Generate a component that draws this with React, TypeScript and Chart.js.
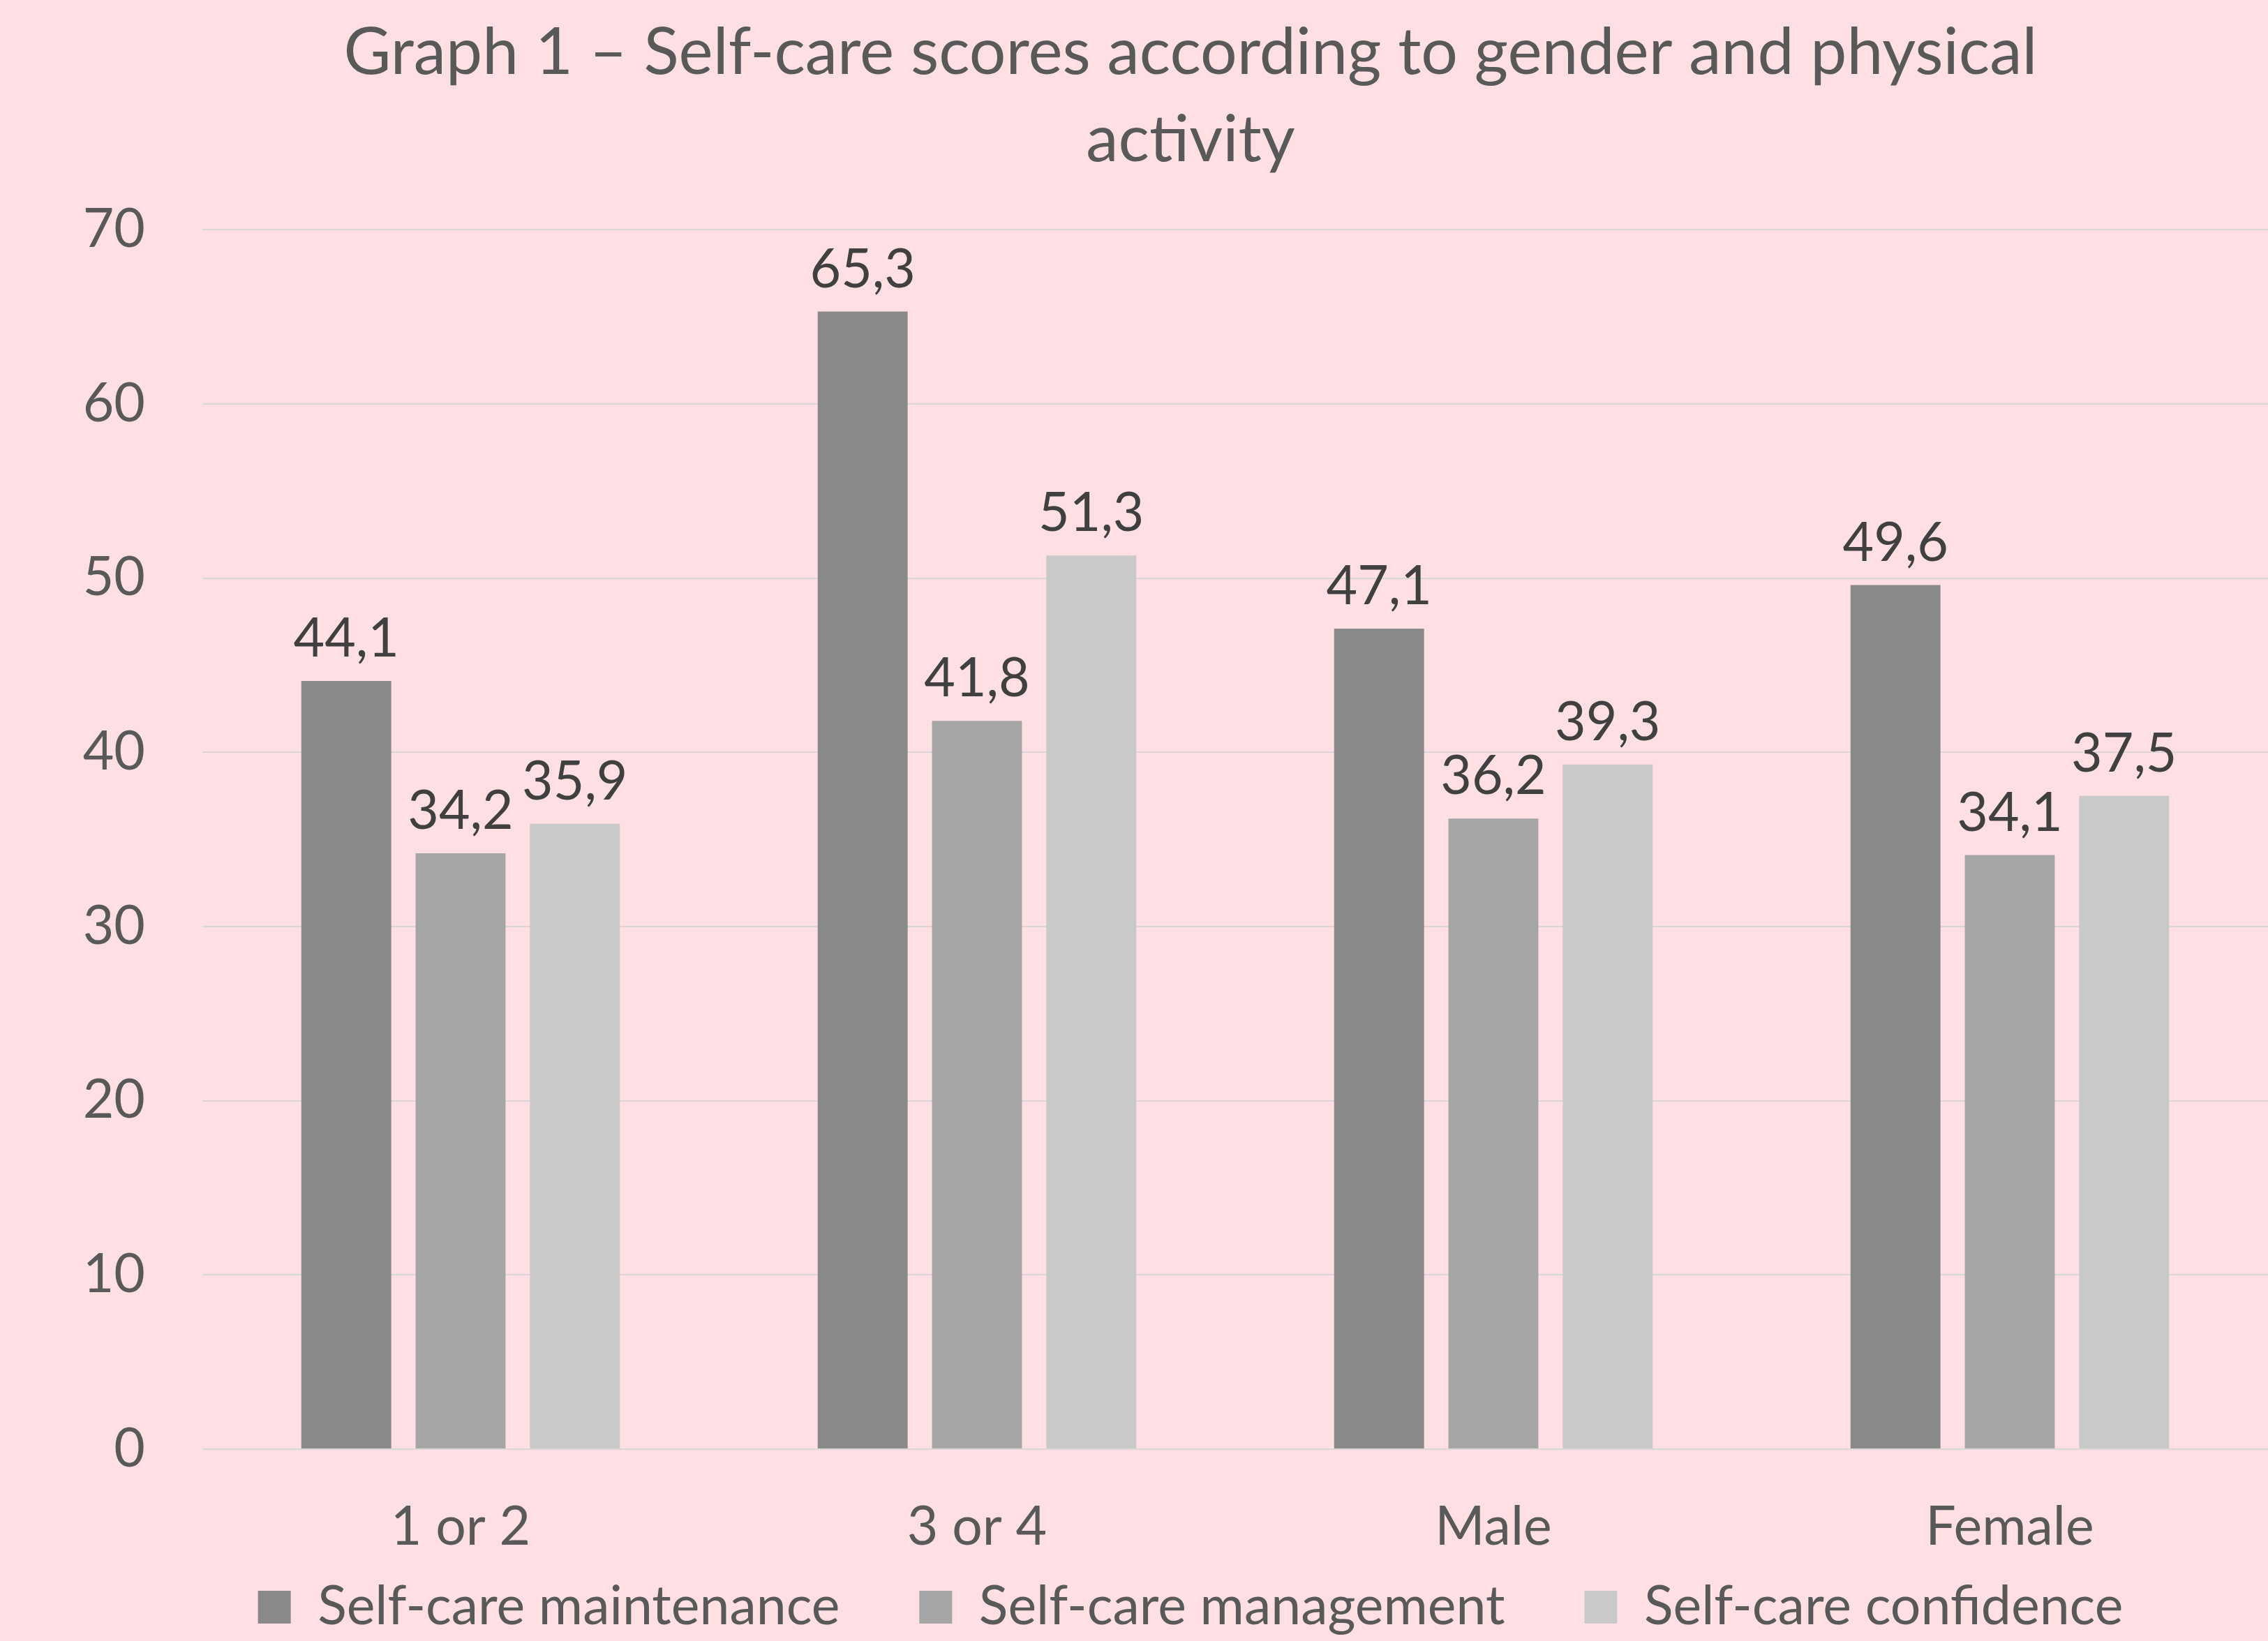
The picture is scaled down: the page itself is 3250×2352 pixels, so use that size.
import React, { useEffect, useRef } from "react";
import { Chart, registerables } from "chart.js";

Chart.register(...registerables);

const categories = ["1 or 2", "3 or 4", "Male", "Female"];
const maintenance = [44.1, 65.3, 47.1, 49.6];
const management = [34.2, 41.8, 36.2, 34.1];
const confidence = [35.9, 51.3, 39.3, 37.5];
const seriesNames = ["Self-care maintenance", "Self-care management", "Self-care confidence"];
const titleLines = ["Graph 1 \u2013 Self-care scores according to gender and physical", "activity"];
const yMin = 0;
const yMax = 70;
const yStep = 10;

const FONT = "Lato";
const BG = "#FDDFE4";

const bgPlugin = {
  id: "bg",
  beforeDraw(chart: any) {
    const ctx = chart.ctx;
    ctx.save();
    ctx.fillStyle = BG;
    ctx.fillRect(0, 0, chart.width, chart.height);
    ctx.restore();
  },
};

// widen label clipping areas so tick labels are not cut off
const labelAreaPlugin = {
  id: "labelArea",
  afterLayout(chart: any) {
    const y = chart.scales.y;
    const x = chart.scales.x;
    if (y) y.left = 0;
    if (x) x.bottom = chart.height;
  },
};

const labelPlugin = {
  id: "valueLabels",
  afterDatasetsDraw(chart: any) {
    const ctx = chart.ctx;
    ctx.save();
    ctx.font = `77px ${FONT}`;
    ctx.fillStyle = "#404040";
    ctx.textAlign = "center";
    ctx.textBaseline = "alphabetic";
    chart.data.datasets.forEach((ds: any, i: number) => {
      const meta = chart.getDatasetMeta(i);
      meta.data.forEach((bar: any, j: number) => {
        const v = ds.data[j];
        ctx.fillText(v.toFixed(1).replace(".", ","), bar.x, bar.y - 35);
      });
    });
    ctx.restore();
  },
};

export default function App() {
  const ref = useRef<HTMLCanvasElement>(null);
  useEffect(() => {
    if (!ref.current) return;
    const chart = new Chart(ref.current, {
      type: "bar",
      data: {
        labels: categories,
        datasets: [
          { label: seriesNames[0], data: maintenance, backgroundColor: "#898989" },
          { label: seriesNames[1], data: management, backgroundColor: "#A6A6A6" },
          { label: seriesNames[2], data: confidence, backgroundColor: "#C9C9C9" },
        ],
      },
      options: {
        responsive: false,
        animation: false,
        layout: { padding: { left: 162, right: 0, top: 0, bottom: 0 } },
        datasets: {
          bar: { categoryPercentage: 0.664, barPercentage: 0.787 },
        },
        plugins: {
          title: {
            display: true,
            text: titleLines,
            color: "#595959",
            font: { family: FONT, size: 93, weight: "normal", lineHeight: 1.34 },
            padding: { top: 14, bottom: 66 },
          },
          legend: {
            position: "bottom",
            labels: {
              color: "#595959",
              font: { family: FONT, size: 77 },
              boxWidth: 47,
              boxHeight: 47,
              padding: 114,
            },
          },
          tooltip: { enabled: false },
        },
        scales: {
          x: {
            afterFit(scale: any) {
              scale.height = 74;
            },
            grid: { display: false },
            border: { display: false },
            ticks: { color: "#595959", font: { family: FONT, size: 77 }, padding: 58 },
          },
          y: {
            min: yMin,
            max: yMax,
            afterFit(scale: any) {
              scale.width = 128;
            },
            grid: { color: "#DAD6D7", lineWidth: 2, drawTicks: false },
            border: { display: false },
            ticks: {
              stepSize: yStep,
              color: "#595959",
              font: { family: FONT, size: 77 },
              padding: 82,
            },
          },
        },
      },
      plugins: [bgPlugin, labelAreaPlugin, labelPlugin],
    });
    return () => chart.destroy();
  }, []);
  return (
    <canvas
      ref={ref}
      width={3250}
      height={2352}
      style={{ position: "fixed", left: 0, top: 0, display: "block" }}
    />
  );
}
